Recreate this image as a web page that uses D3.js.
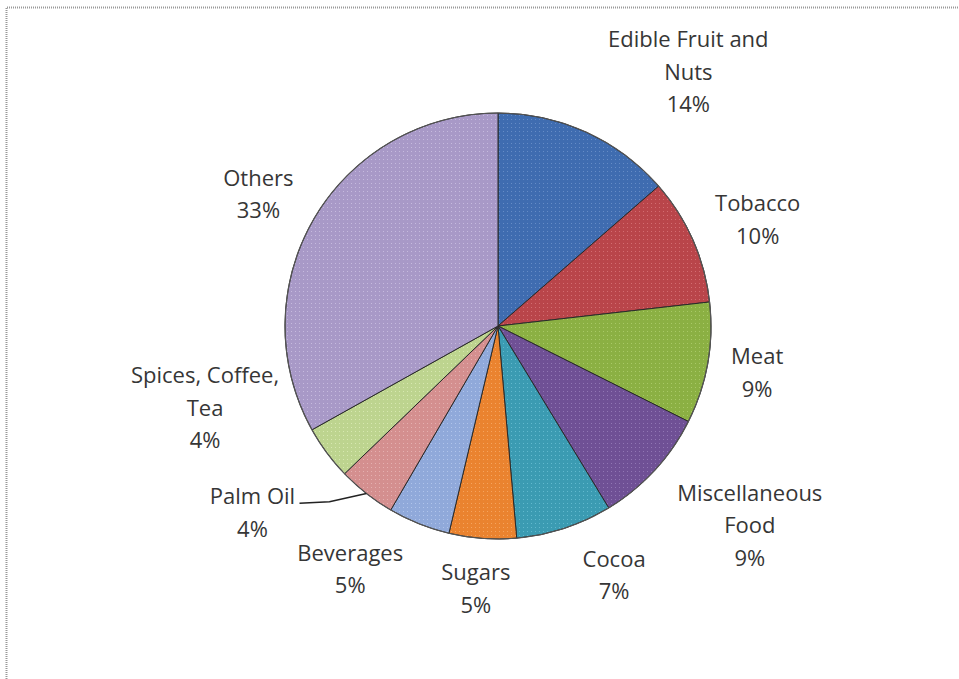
<html>
<head>
    <meta charset="utf-8">
    <title>Pie chart</title>
    <style>
        body { margin: 0; background: #fff; }
        text { font-family: "Open Sans", Lato, sans-serif; fill: #363636; }
    </style>
</head>
<body>
    <script src="https://cdn.jsdelivr.net/npm/d3@7"></script>
    <script>
        var width = 959, height = 679;

        // categories, shares (%) and the printed labels
        const categories = ["Edible Fruit and|Nuts", "Tobacco", "Meat", "Miscellaneous|Food", "Cocoa",
            "Sugars", "Beverages", "Palm Oil", "Spices, Coffee,|Tea", "Others"];
        const shares = [13.6, 9.6, 9.2, 8.9, 7.3, 5.1, 4.7, 4.4, 4.1, 33.1];
        const pctLabels = ["14%", "10%", "9%", "9%", "7%", "5%", "5%", "4%", "4%", "33%"];

        const colors = ["#3f6cb0", "#b9454a", "#8bb043", "#6f5095", "#3b9bb2",
            "#ea832f", "#90a9da", "#d48f8f", "#bdd48f", "#a899c7"];
        const dotColors = ["#6f93cc", "#d9777a", "#b0d070", "#9a80bb", "#6cc0d4",
            "#f8ad6a", "#b8cbef", "#eab8b8", "#ddeeb8", "#cdc2e4"];

        // nudges for label blocks, relative to the default outer position
        const nudge = [[80, -12], [16, 1], [-3, 0], [56, 19], [33, -4], [-3, -3], [-49, -4], [-81, -23], [-79, -77], [-10, 3]];

        var svg = d3.select("body").append("svg")
            .attr("width", width)
            .attr("height", height);

        // frame (dotted grey)
        svg.append("path")
            .attr("d", "M6.5,679 L6.5,7.5 L959,7.5")
            .attr("fill", "none")
            .attr("stroke", "#999")
            .attr("stroke-width", 2)
            .attr("stroke-dasharray", "1,1");

        // dotted fill patterns
        var defs = svg.append("defs");
        colors.forEach(function (c, i) {
            var p = defs.append("pattern")
                .attr("id", "pat" + i)
                .attr("patternUnits", "userSpaceOnUse")
                .attr("width", 4).attr("height", 4);
            p.append("rect").attr("width", 4).attr("height", 4).attr("fill", c);
            p.append("rect").attr("x", 1).attr("y", 1).attr("width", 1).attr("height", 1)
                .attr("fill", dotColors[i]).attr("opacity", 0.8);
        });

        var cx = 498, cy = 326, r = 213;

        var pie = d3.pie().sort(null).value(d => d);
        var arcs = pie(shares);
        var arc = d3.arc().innerRadius(0).outerRadius(r);
        var outer = d3.arc().innerRadius(r * 1.25).outerRadius(r * 1.25);
        var edge = d3.arc().innerRadius(r).outerRadius(r);

        var g = svg.append("g").attr("transform", "translate(" + cx + "," + cy + ")");

        g.selectAll("path.slice")
            .data(arcs)
            .enter()
            .append("path")
            .attr("class", "slice")
            .attr("d", arc)
            .attr("fill", (d, i) => "url(#pat" + i + ")")
            .attr("stroke", "#2a2a2a")
            .attr("stroke-width", 1);

        g.append("circle")
            .attr("r", r)
            .attr("fill", "none")
            .attr("stroke", "#555")
            .attr("stroke-width", 1.2);

        var lineH = 32.5;
        var labels = g.selectAll("g.lbl")
            .data(arcs)
            .enter()
            .append("g")
            .attr("class", "lbl")
            .attr("transform", function (d, i) {
                var c = outer.centroid(d);
                return "translate(" + (c[0] + nudge[i][0]) + "," + (c[1] + nudge[i][1]) + ")";
            });

        labels.each(function (d, i) {
            var lines = categories[i].split("|").concat([pctLabels[i]]);
            var t = d3.select(this).append("text")
                .attr("text-anchor", "middle")
                .attr("font-size", "22px");
            lines.forEach(function (s, k) {
                t.append("tspan")
                    .attr("x", 0)
                    .attr("y", (k - (lines.length - 1) / 2) * lineH + 8)
                    .text(s);
            });
        });

        // leader line for Palm Oil
        var pi = categories.indexOf("Palm Oil");
        var ep = edge.centroid(arcs[pi]);
        var lc = outer.centroid(arcs[pi]);
        var lx = lc[0] + nudge[pi][0] + 47, ly = lc[1] + nudge[pi][1] - 9;
        g.append("path")
            .attr("d", "M" + lx + "," + ly + " L" + (lx + 30) + "," + (ly - 1.5) + " L" + ep[0] + "," + ep[1])
            .attr("fill", "none")
            .attr("stroke", "#222")
            .attr("stroke-width", 1.5);
    </script>
</body>
</html>
